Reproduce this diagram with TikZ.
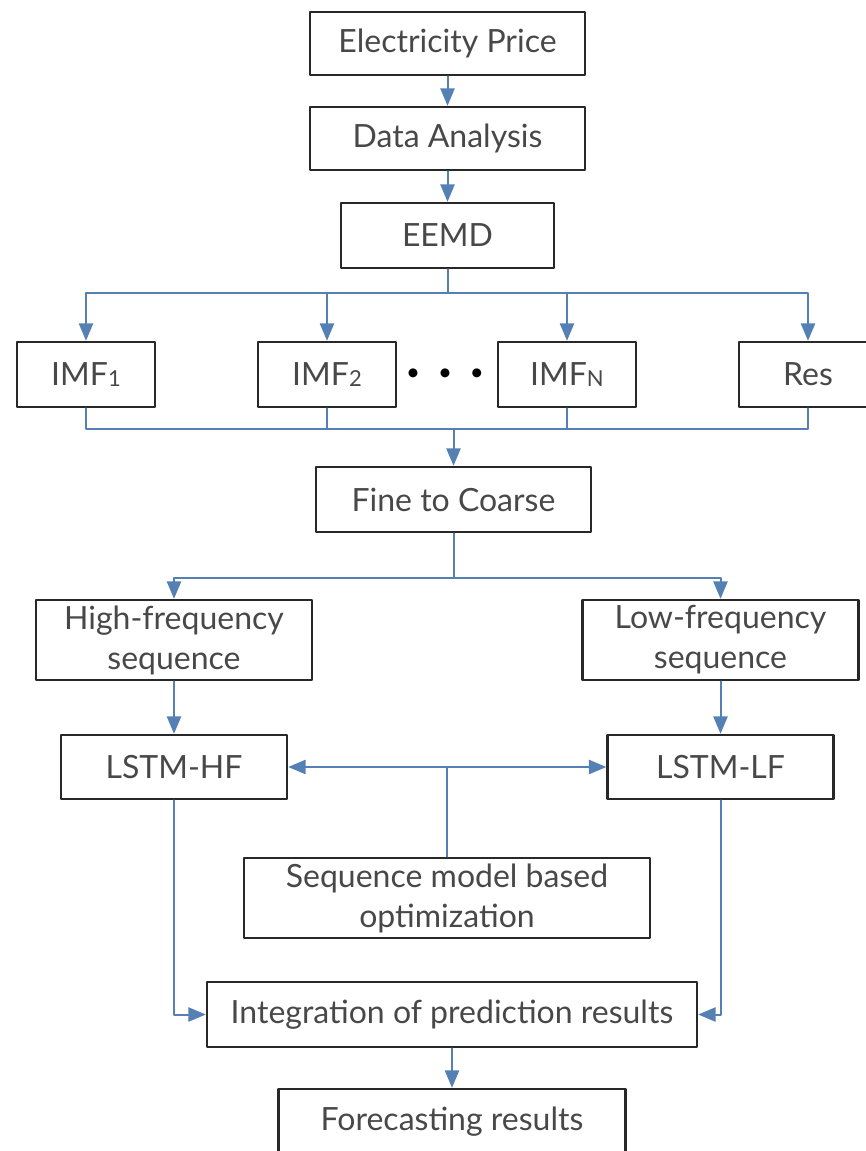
\documentclass[tikz,border=0pt]{standalone}
\usepackage{fontspec}
\setmainfont{Lato}
\usetikzlibrary{arrows}
\definecolor{flowblue}{RGB}{84,128,180}
\definecolor{boxgray}{RGB}{40,40,40}
\definecolor{txtgray}{RGB}{72,72,72}

\begin{document}
\begin{tikzpicture}[line cap=round,line join=round,>=triangle 45,x=0.5pt,y=-0.5pt,
  box/.style={draw=boxgray,line width=1.3pt,text=txtgray,font=\fontsize{16}{20}\selectfont,inner sep=0pt,align=center,minimum height=32.5pt},
  flow/.style={draw=flowblue,line width=1pt},
  arr/.style={flow,->}]
\useasboundingbox (0,0) rectangle (866,1151);
\clip (0,0) rectangle (866,1151);
% top chain
\node[box,minimum width=137.5pt,minimum height=31.5pt] (price) at (447.5,43.5) {Electricity Price};
\node[box,minimum width=137.5pt,minimum height=31.5pt] (analysis) at (447.5,138.5) {Data Analysis};
\node[box,minimum width=106.5pt] (eemd) at (447.5,235.5) {EEMD};
% decomposition
\node[box,minimum width=69pt] (imf1) at (86,374.5) {IMF\raisebox{-0.5pt}{\fontsize{11}{11}\selectfont 1}};
\node[box,minimum width=69pt] (imf2) at (327,374.5) {IMF\raisebox{-0.5pt}{\fontsize{11}{11}\selectfont 2}};
\node[font=\fontsize{12}{14}\selectfont,text=black] (dots) at (445,374.5) {•\hspace{9pt}•\hspace{9pt}•};
\node[box,minimum width=69pt] (imfn) at (567,374.5) {IMF\raisebox{-0.5pt}{\fontsize{11}{11}\selectfont N}};
\node[box,minimum width=69pt] (res) at (808,374.5) {Res};
\node[box,minimum width=137.5pt] (fine) at (453.5,499.5) {Fine to Coarse};
% two branches
\node[box,minimum width=138pt,minimum height=40pt] (high) at (174,640) {High-frequency\\sequence};
\node[box,minimum width=138pt,minimum height=40pt] (low) at (720.5,640) {Low-frequency\\sequence};
\node[box,minimum width=113pt,minimum height=32pt] (lstmhf) at (174,767) {LSTM-HF};
\node[box,minimum width=113pt,minimum height=32pt] (lstmlf) at (720.5,767) {LSTM-LF};
\node[box,minimum width=203pt,minimum height=40pt] (seq) at (447,898) {Sequence model based\\optimization};
\node[box,minimum width=245pt] (integ) at (452,1014.5) {Integration of prediction results};
\node[box,minimum width=173.5pt] (fore) at (452,1121.5) {Forecasting results};

\coordinate (split) at (447.5,293);
\coordinate (merge) at (453.5,429);
\coordinate (fork) at (453.5,578);
\coordinate (joint) at (447,767);

\draw[arr] (price) -- (analysis);
\draw[arr] (analysis) -- (eemd);
\draw[flow] (eemd) -- (split);
\foreach \n in {imf1,imf2,imfn,res}
  \draw[arr] (split) -| (\n);
\foreach \n in {imf1,imf2,imfn,res}
  \draw[flow] (\n) |- (merge);
\draw[arr] (merge) -- (fine);
\draw[flow] (fine) -- (fork);
\draw[arr] (fork) -| (high);
\draw[arr] (fork) -| (low);
\draw[arr] (high) -- (lstmhf);
\draw[arr] (low) -- (lstmlf);
\draw[flow,<->] (lstmhf) -- (lstmlf);
\draw[flow] (seq) -- (joint);
\draw[arr] (lstmhf) |- (integ);
\draw[arr] (lstmlf) |- (integ);
\draw[arr] (integ) -- (fore);
\end{tikzpicture}
\end{document}
